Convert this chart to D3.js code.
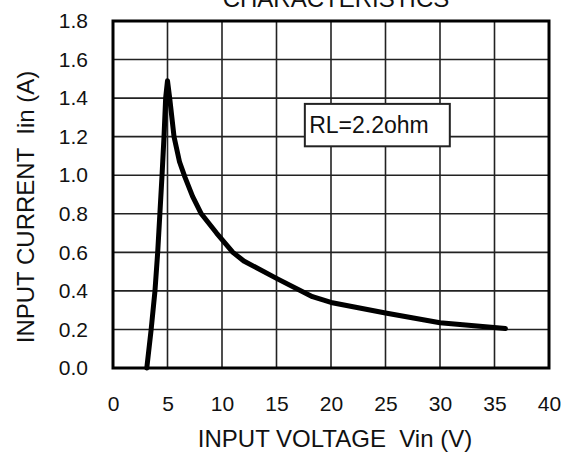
<!DOCTYPE html>
<html>
<head>
<meta charset="utf-8">
<script src="https://cdn.jsdelivr.net/npm/d3@7"></script>
<style>
  body { margin: 0; background: #fff; }
  text { font-family: "Liberation Sans", Arial, sans-serif; fill: #111; }
</style>
</head>
<body>
<div id="chart"></div>
<script>
// curve
var vin = [3.1, 3.5, 3.85, 4.1, 4.3, 4.5, 4.68, 4.83, 5.0, 5.2, 5.6, 6.1, 6.6, 7.3, 8.1, 9.5, 11.0, 12, 15, 18.3, 20, 25, 30, 36];
var iin = [0, 0.2, 0.4, 0.6, 0.8, 1.0, 1.2, 1.4, 1.49, 1.4, 1.2, 1.07, 0.99, 0.89, 0.8, 0.7, 0.6, 0.555, 0.465, 0.37, 0.34, 0.285, 0.235, 0.205];

var xTicks = [0, 5, 10, 15, 20, 25, 30, 35, 40];
var yTicks = [0, 0.2, 0.4, 0.6, 0.8, 1.0, 1.2, 1.4, 1.6, 1.8];

var svgWidth = 573;
var svgHeight = 454;

var margin = { top: 21, right: 24, bottom: 86, left: 113 };
var width = 549 - margin.left;
var height = 368 - margin.top;

var svg = d3.select("#chart")
  .append("svg")
  .attr("width", svgWidth)
  .attr("height", svgHeight);

var g = svg.append("g")
  .attr("transform", `translate(${margin.left}, ${margin.top})`);

var x = d3.scaleLinear().domain([0, 40]).range([0, width]);
var y = d3.scaleLinear().domain([0, 1.8]).range([height, 0]);

// grid
g.selectAll(".vgrid")
  .data(xTicks)
  .enter()
  .append("line")
  .attr("x1", d => x(d))
  .attr("x2", d => x(d))
  .attr("y1", 0)
  .attr("y2", height)
  .attr("stroke", "#222")
  .attr("stroke-width", 1.6);

g.selectAll(".hgrid")
  .data(yTicks)
  .enter()
  .append("line")
  .attr("x1", 0)
  .attr("x2", width)
  .attr("y1", d => y(d))
  .attr("y2", d => y(d))
  .attr("stroke", "#222")
  .attr("stroke-width", 1.6);

// axes, drawn without domain line or ticks
var bottomAxis = d3.axisBottom(x).tickValues(xTicks).tickSize(0).tickPadding(30);
var leftAxis = d3.axisLeft(y).tickValues(yTicks).tickSize(0).tickPadding(25)
  .tickFormat(d3.format(".1f"));

var xAxis = g.append("g")
  .attr("transform", `translate(0, ${height})`)
  .call(bottomAxis);
var yAxis = g.append("g").call(leftAxis);

[xAxis, yAxis].forEach(function(a) {
  a.select(".domain").remove();
  a.selectAll("text")
    .style("font-size", "21px")
    .style("font-family", "Liberation Sans, Arial, sans-serif")
    .attr("fill", "#111");
});
xAxis.selectAll("text").attr("dy", "0.6em");

// frame
g.append("rect")
  .attr("x", 0)
  .attr("y", 0)
  .attr("width", width)
  .attr("height", height)
  .attr("fill", "none")
  .attr("stroke", "#000")
  .attr("stroke-width", 3);

// label box
var boxG = g.append("g");
boxG.append("rect")
  .attr("x", x(17.6))
  .attr("y", y(1.37))
  .attr("width", x(30.9) - x(17.6))
  .attr("height", y(1.15) - y(1.37))
  .attr("fill", "#fff")
  .attr("stroke", "#222")
  .attr("stroke-width", 2);
boxG.append("text")
  .attr("x", x(18.0))
  .attr("y", y(1.26))
  .attr("dy", "0.36em")
  .style("font-size", "23px")
  .text("RL=2.2ohm");

// curve
var pts = vin.map((v, i) => [v, iin[i]]);
var line = d3.line()
  .x(d => x(d[0]))
  .y(d => y(d[1]))
  .curve(d3.curveLinear);

g.append("path")
  .datum(pts)
  .attr("d", line)
  .attr("fill", "none")
  .attr("stroke", "#000")
  .attr("stroke-width", 5)
  .attr("stroke-linejoin", "round")
  .attr("stroke-linecap", "round");

// titles
svg.append("text")
  .attr("x", 336)
  .attr("y", 7)
  .attr("text-anchor", "middle")
  .style("font-size", "24px")
  .text("CHARACTERISTICS");

svg.append("text")
  .attr("x", 335)
  .attr("y", 447)
  .attr("text-anchor", "middle")
  .style("font-size", "24px")
  .style("white-space", "pre")
  .text("INPUT VOLTAGE  Vin (V)");

svg.append("text")
  .attr("transform", "translate(34, 207) rotate(-90)")
  .attr("text-anchor", "middle")
  .style("font-size", "24px")
  .style("white-space", "pre")
  .text("INPUT CURRENT  Iin (A)");
</script>
</body>
</html>
